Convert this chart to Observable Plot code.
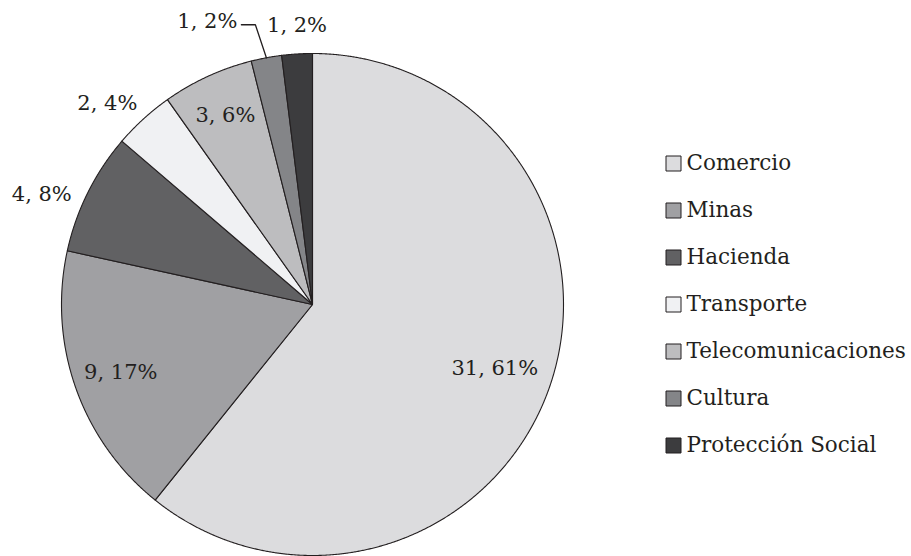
<!DOCTYPE html>
<html>
<head>
<meta charset="utf-8">
<script src="https://cdn.jsdelivr.net/npm/d3@7"></script>
<script src="https://cdn.jsdelivr.net/npm/@observablehq/plot@0.6"></script>
<style>
  html, body { margin: 0; padding: 0; background: #fff; }
  #chart { position: relative; width: 911px; height: 556px; overflow: hidden; }
  #chart > svg, #chart > figure { position: absolute; top: 0; margin: 0; }
</style>
</head>
<body>
<div id="chart"></div>
<script>
// ---- data ----
const categories = ["Comercio", "Minas", "Hacienda", "Transporte", "Telecomunicaciones", "Cultura", "Protección Social"];
const values = [31, 9, 4, 2, 3, 1, 1];
const percentLabels = ["61%", "17%", "8%", "4%", "6%", "2%", "2%"];
const colors = ["#dcdcde", "#a0a0a3", "#616163", "#f0f1f3", "#bdbdbf", "#848588", "#3c3c3e"];

// ---- layout (styling, not data) ----
const R = 251, CX = 312, CY = 304;
const FONT = "'DejaVu Serif', 'Liberation Serif', serif";
const INK = "#231f20";
const labelLayout = {
  "Comercio": {r: 0.77, dx: 0, dy: 0, anchor: "middle"},
  "Minas": {r: 0.81, dx: 0, dy: 0, anchor: "middle"},
  "Hacienda": {r: 1, dx: -16, dy: 2, anchor: "end"},
  "Transporte": {r: 1, dx: -6, dy: -15.5, anchor: "end"},
  "Telecomunicaciones": {r: 0.83, dx: 0, dy: 0, anchor: "middle"},
  "Cultura": {r: 1, dx: -29, dy: -37, anchor: "end"},
  "Protección Social": {r: 1, dx: 0, dy: -29, anchor: "middle"}
};

const rows = categories.map((c, i) => ({cat: c, value: values[i], label: `${values[i]}, ${percentLabels[i]}`}));
const arcs = d3.pie().sort(null).value(d => d.value)(rows);
const polar = (a, r) => ({x: r * Math.sin(a), y: r * Math.cos(a)});

// slice outlines
const slicePts = [];
for (const a of arcs) {
  const cat = a.data.cat;
  slicePts.push({cat, ...polar(0, 0)});
  const n = Math.max(2, Math.ceil((a.endAngle - a.startAngle) / 0.004));
  for (let k = 0; k <= n; k++) {
    const t = a.startAngle + (a.endAngle - a.startAngle) * k / n;
    slicePts.push({cat, ...polar(t, 1)});
  }
  slicePts.push({cat, ...polar(0, 0)});
}

// labels
const labels = arcs.map(a => {
  const mid = (a.startAngle + a.endAngle) / 2;
  const L = labelLayout[a.data.cat];
  const p = polar(mid, L.r);
  return {cat: a.data.cat, text: a.data.label, anchor: L.anchor, x: p.x + L.dx / R, y: p.y - L.dy / R, mid};
});

// leader for Cultura
const cult = arcs[categories.indexOf("Cultura")];
const cm = (cult.startAngle + cult.endAngle) / 2;
const s0 = polar(cm, 1);
const elbow = {x: s0.x - 11 / R, y: s0.y + 33 / R};
const leader = [s0, elbow, {x: elbow.x - 14 / R, y: elbow.y}];

const color = {type: "ordinal", domain: categories, range: colors};

const pie = Plot.plot({
  width: 911, height: 556,
  margin: 0,
  x: {domain: [-1, 1], range: [CX - R, CX + R], axis: null},
  y: {domain: [-1, 1], range: [CY + R, CY - R], axis: null},
  color,
  style: {fontFamily: FONT, background: "transparent"},
  marks: [
    Plot.line(slicePts, {x: "x", y: "y", z: "cat", fill: "cat", stroke: INK, strokeWidth: 1.1, strokeLinejoin: "round", curve: "linear"}),
    Plot.line(leader, {x: "x", y: "y", stroke: INK, strokeWidth: 1.3, curve: "linear"}),
    ...["start", "middle", "end"].map(anc =>
      Plot.text(labels.filter(d => d.anchor === anc), {x: "x", y: "y", text: "text", textAnchor: anc, lineAnchor: "middle", fontSize: 21, fill: INK})
    )
  ]
});

const legend = Plot.plot({
  width: 251, height: 556,
  margin: 0,
  y: {type: "band", domain: categories, range: [135.5, 472], axis: null},
  color,
  style: {fontFamily: FONT, background: "transparent"},
  marks: [
    Plot.dot(categories, {y: d => d, fill: d => d, symbol: "square", r: 15 / Math.sqrt(Math.PI), stroke: INK, strokeWidth: 1, frameAnchor: "left", dx: 13}),
    Plot.text(categories, {y: d => d, text: d => d, frameAnchor: "left", dx: 26, textAnchor: "start", lineAnchor: "middle", fontSize: 21.5, fill: INK})
  ]
});

const chart = document.getElementById("chart");
pie.style.left = "0px";
legend.style.left = "660px";
chart.appendChild(pie);
chart.appendChild(legend);
</script>
</body>
</html>
